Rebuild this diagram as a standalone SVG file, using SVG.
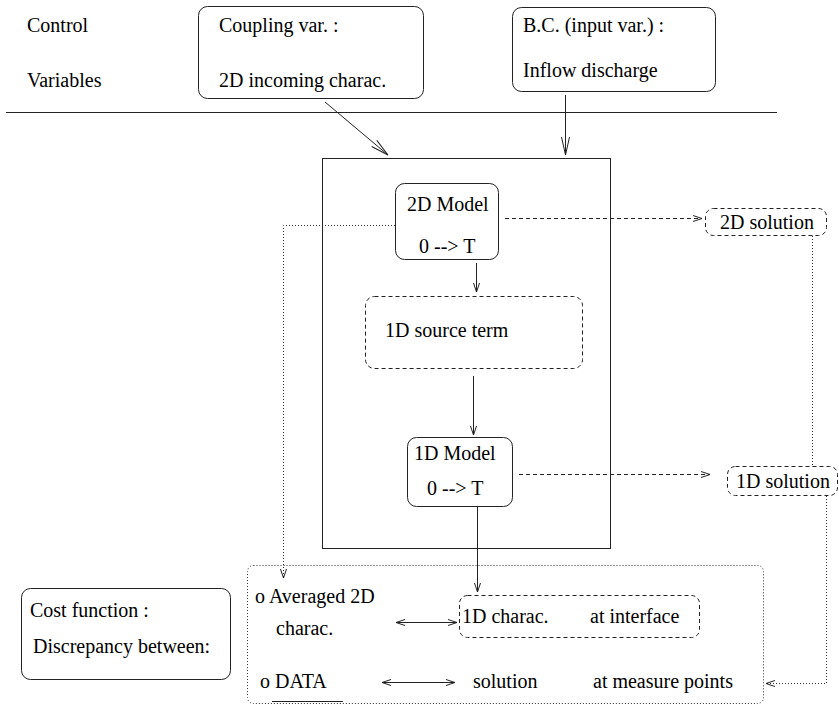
<svg xmlns="http://www.w3.org/2000/svg" width="839" height="706" viewBox="0 0 839 706" font-family="'Liberation Serif', 'Times New Roman', 'DejaVu Serif', serif">
<defs>
<style>
text{font-family:'Liberation Serif','Times New Roman','DejaVu Serif',serif;font-size:20px;fill:#000}
.box{fill:none;stroke:#222;stroke-width:1}
.dash{fill:none;stroke:#222;stroke-width:1;stroke-dasharray:4 3}
.dot{fill:none;stroke:#333;stroke-width:1;stroke-dasharray:1 2}
.ln{fill:none;stroke:#222;stroke-width:1}
</style>
<marker id="bigV" markerUnits="userSpaceOnUse" markerWidth="22" markerHeight="12" refX="20" refY="6" orient="auto"><path d="M2,2 L20,6 L2,10" fill="none" stroke="#222" stroke-width="1"/></marker>
<marker id="smV" markerUnits="userSpaceOnUse" markerWidth="12" markerHeight="8" refX="10" refY="4" orient="auto-start-reverse"><path d="M1,1 L10,4 L1,7" fill="none" stroke="#222" stroke-width="1"/></marker>
</defs>
<rect width="839" height="706" fill="#fff"/>

<g id="labels">
<text x="27" y="32">Control</text>
<text x="27" y="87">Variables</text>
</g>

<g id="coupling">
<rect class="box" x="198.5" y="6.5" width="225" height="92" rx="9"/>
<text x="219" y="32">Coupling var. :</text>
<text x="219" y="87">2D incoming charac.</text>
</g>

<g id="bc">
<rect class="box" x="512.5" y="7.5" width="203" height="84" rx="9"/>
<text x="523" y="32">B.C. (input var.) :</text>
<text x="523" y="77">Inflow discharge</text>
</g>

<g id="separator">
<line class="ln" x1="6" y1="112.5" x2="777" y2="112.5"/>
</g>

<g id="mainbox">
<rect class="box" x="322.5" y="158.5" width="288" height="390"/>
</g>

<g id="model2d">
<rect class="box" x="395.5" y="183.5" width="103" height="76" rx="9"/>
<text x="407" y="211">2D Model</text>
<text x="419" y="253">0 --&gt; T</text>
</g>

<g id="source1d">
<rect class="dash" x="365.5" y="296.5" width="217" height="72" rx="9"/>
<text x="385" y="337">1D source term</text>
</g>

<g id="model1d">
<rect class="box" x="407.5" y="437.5" width="105" height="69" rx="9"/>
<text x="414" y="460">1D Model</text>
<text x="427" y="495">0 --&gt; T</text>
</g>

<g id="sol2d">
<rect class="dash" x="705.5" y="208.5" width="121" height="27" rx="8"/>
<text x="720" y="229">2D solution</text>
</g>

<g id="sol1d">
<rect class="dash" x="727.5" y="466.5" width="110" height="29" rx="8"/>
<text x="736" y="488">1D solution</text>
</g>

<g id="costbox">
<rect class="box" x="21.5" y="588.5" width="209" height="91" rx="9"/>
<text x="30" y="617">Cost function :</text>
<text x="33" y="653">Discrepancy between:</text>
</g>

<g id="discrepancy">
<rect class="dot" x="247.5" y="565.5" width="516" height="138" rx="6"/>
<text x="255" y="603">o Averaged 2D</text>
<text x="276" y="635">charac.</text>
<text x="260" y="688">o DATA</text>
<line class="ln" x1="272" y1="701.5" x2="343" y2="701.5"/>
<text x="473" y="688">solution</text>
<text x="593" y="688">at measure points</text>
</g>

<g id="charac1d">
<rect class="dash" x="459.5" y="595.5" width="240" height="42" rx="8"/>
<text x="462" y="623">1D charac.</text>
<text x="590" y="623">at interface</text>
</g>

<g id="connectors">
<line class="ln" x1="325" y1="102" x2="388" y2="155" marker-end="url(#bigV)"/>
<line class="ln" x1="565.5" y1="95" x2="565.5" y2="155" marker-end="url(#bigV)"/>
<line class="ln" x1="476.5" y1="263" x2="476.5" y2="292" marker-end="url(#smV)"/>
<line class="ln" x1="473.5" y1="376" x2="473.5" y2="435" marker-end="url(#smV)"/>
<line class="ln" x1="477.5" y1="507" x2="477.5" y2="592" marker-end="url(#smV)"/>
<line class="dash" x1="505" y1="218.5" x2="702" y2="218.5" marker-end="url(#smV)"/>
<line class="dash" x1="519" y1="474.5" x2="710" y2="474.5" marker-end="url(#smV)"/>
<polyline class="dot" points="395,225.5 283.5,225.5 283.5,578" marker-end="url(#smV)"/>
<line class="dot" x1="812.5" y1="236" x2="812.5" y2="466"/>
<polyline class="dot" points="826.5,496 826.5,683.5 766,683.5" marker-end="url(#smV)"/>
<line class="ln" x1="396" y1="622.5" x2="457" y2="622.5" marker-start="url(#smV)" marker-end="url(#smV)"/>
<line class="ln" x1="382" y1="682.5" x2="455" y2="682.5" marker-start="url(#smV)" marker-end="url(#smV)"/>
</g>
</svg>
